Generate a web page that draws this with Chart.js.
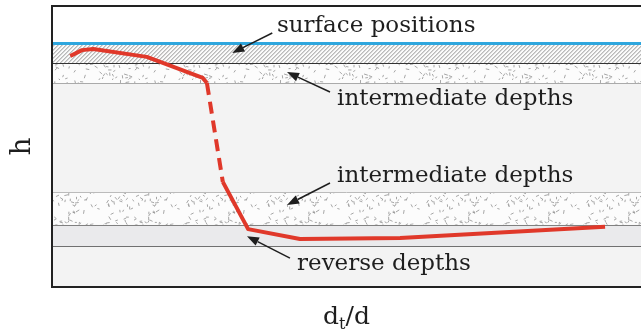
<!DOCTYPE html>
<html>
<head>
<meta charset="utf-8">
<script src="https://cdn.jsdelivr.net/npm/chart.js@4.4.0/dist/chart.umd.min.js"></script>
<style>
  body { margin: 0; background: #ffffff; }
  #wrap { width: 641px; height: 333px; }
</style>
</head>
<body>
<div id="wrap"><canvas id="myChart" width="641" height="333"></canvas></div>
<script>
    // red curve, h against d_t/d (both 0..1)
    var dtd = [0.031, 0.051, 0.070, 0.161, 0.256, 0.263, 0.290, 0.333, 0.421, 0.591, 0.939];
    var hVals = [0.822, 0.843, 0.847, 0.819, 0.744, 0.726, 0.374, 0.206, 0.171, 0.174, 0.214];
    var dashedSegment = 5;

    // labelled layers
    var layerNames = ['surface positions', 'intermediate depths', 'intermediate depths', 'reverse depths'];

    // layer bands (h units), drawn behind the curve
    var bands = [
      { from: 0.872, to: 1.0, fill: '#ffffff' },
      { from: 0.797, to: 0.867, fill: 'hatch' },
      { from: 0.726, to: 0.797, fill: 'stipple' },
      { from: 0.338, to: 0.726, fill: '#f3f3f3' },
      { from: 0.221, to: 0.338, fill: 'stipple' },
      { from: 0.146, to: 0.221, fill: '#eaeaec' },
      { from: 0.0, to: 0.146, fill: '#f3f3f3' }
    ];
    var rules = [
      { h: 0.867, color: '#2ea6de', width: 3 },
      { h: 0.797, color: '#333333', width: 1 },
      { h: 0.726, color: '#aaaaaa', width: 1.2 },
      { h: 0.338, color: '#bbbbbb', width: 1 },
      { h: 0.221, color: '#808080', width: 1.2 },
      { h: 0.146, color: '#707070', width: 1.2 }
    ];
    // label placement: text left/baseline and arrow start -> tip
    var notes = [
      { tx: 0.382, ty: 0.908, ax: 0.374, ay: 0.904, bx: 0.306, by: 0.833 },
      { tx: 0.484, ty: 0.648, ax: 0.472, ay: 0.694, bx: 0.399, by: 0.765 },
      { tx: 0.484, ty: 0.374, ax: 0.472, ay: 0.370, bx: 0.399, by: 0.292 },
      { tx: 0.416, ty: 0.062, ax: 0.404, ay: 0.103, bx: 0.331, by: 0.181 }
    ];

    var serif = '"DejaVu Serif", serif';

    function makeStipple() {
      var c = document.createElement('canvas');
      c.width = 80; c.height = 80;
      var g = c.getContext('2d');
      g.fillStyle = '#fcfcfc';
      g.fillRect(0, 0, 80, 80);
      var seed = 11;
      function rnd() { seed = (seed * 16807) % 2147483647; return seed / 2147483647; }
      g.strokeStyle = '#9c9c9c';
      g.lineWidth = 0.9;
      for (var i = 0; i < 165; i++) {
        var x = rnd() * 80, y = rnd() * 80, a = rnd() * Math.PI, l = 2 + rnd() * 2;
        g.beginPath();
        g.moveTo(x, y);
        g.lineTo(x + Math.cos(a) * l, y + Math.sin(a) * l);
        g.stroke();
      }
      return c;
    }

    var layersPlugin = {
      id: 'layers',
      beforeDatasetsDraw: function (chart) {
        var ctx = chart.ctx, a = chart.chartArea, y = chart.scales.y;
        ctx.save();
        ctx.beginPath();
        ctx.rect(a.left, a.top, a.right - a.left, a.bottom - a.top);
        ctx.clip();
        var pat = ctx.createPattern(makeStipple(), 'repeat');
        bands.forEach(function (b) {
          var top = y.getPixelForValue(b.to), bot = y.getPixelForValue(b.from);
          if (b.fill === 'hatch') {
            ctx.fillStyle = '#fafafa';
            ctx.fillRect(a.left, top, a.right - a.left, bot - top);
            ctx.save();
            ctx.beginPath();
            ctx.rect(a.left, top, a.right - a.left, bot - top);
            ctx.clip();
            ctx.strokeStyle = '#888888';
            ctx.lineWidth = 0.9;
            var hgt = bot - top;
            for (var x = a.left - hgt; x < a.right; x += 4) {
              ctx.beginPath();
              ctx.moveTo(x, bot);
              ctx.lineTo(x + hgt, top);
              ctx.stroke();
            }
            ctx.restore();
          } else if (b.fill === 'stipple') {
            ctx.fillStyle = pat;
            ctx.fillRect(a.left, top, a.right - a.left, bot - top);
          } else {
            ctx.fillStyle = b.fill;
            ctx.fillRect(a.left, top, a.right - a.left, bot - top);
          }
        });
        rules.forEach(function (r) {
          var py = Math.round(y.getPixelForValue(r.h)) + 0.5;
          ctx.strokeStyle = r.color;
          ctx.lineWidth = r.width;
          ctx.beginPath();
          ctx.moveTo(a.left, py);
          ctx.lineTo(a.right, py);
          ctx.stroke();
        });
        ctx.restore();
      },
      afterDatasetsDraw: function (chart) {
        var ctx = chart.ctx, a = chart.chartArea, xs = chart.scales.x, ys = chart.scales.y;
        ctx.save();
        // frame
        ctx.strokeStyle = '#222222';
        ctx.lineWidth = 2;
        ctx.beginPath();
        ctx.moveTo(a.right, a.top);
        ctx.lineTo(a.left, a.top);
        ctx.lineTo(a.left, a.bottom);
        ctx.lineTo(a.right, a.bottom);
        ctx.stroke();
        // notes and arrows
        ctx.font = '23px ' + serif;
        ctx.textBaseline = 'alphabetic';
        ctx.textAlign = 'left';
        notes.forEach(function (n, i) {
          ctx.fillStyle = '#1e1e1e';
          ctx.fillText(layerNames[i], xs.getPixelForValue(n.tx), ys.getPixelForValue(n.ty));
          var x0 = xs.getPixelForValue(n.ax), y0 = ys.getPixelForValue(n.ay);
          var x1 = xs.getPixelForValue(n.bx), y1 = ys.getPixelForValue(n.by);
          var ang = Math.atan2(y1 - y0, x1 - x0);
          var L = 12, W = 4.5;
          var bxp = x1 - Math.cos(ang) * L, byp = y1 - Math.sin(ang) * L;
          ctx.strokeStyle = '#1e1e1e';
          ctx.lineWidth = 1.5;
          ctx.beginPath();
          ctx.moveTo(x0, y0);
          ctx.lineTo(bxp, byp);
          ctx.stroke();
          ctx.beginPath();
          ctx.moveTo(x1, y1);
          ctx.lineTo(bxp + Math.sin(ang) * W, byp - Math.cos(ang) * W);
          ctx.lineTo(bxp - Math.sin(ang) * W, byp + Math.cos(ang) * W);
          ctx.closePath();
          ctx.fill();
        });
        // axis titles
        ctx.fillStyle = '#1e1e1e';
        ctx.save();
        ctx.translate(30, (a.top + a.bottom) / 2);
        ctx.rotate(-Math.PI / 2);
        ctx.textAlign = 'center';
        ctx.font = '28px ' + serif;
        ctx.fillText('h', 0, 0);
        ctx.restore();
        var cx = (a.left + a.right) / 2, by = 324;
        ctx.font = '25px ' + serif;
        var w1 = ctx.measureText('d').width, w3 = ctx.measureText('/d').width;
        ctx.font = '16px ' + serif;
        var w2 = ctx.measureText('t').width;
        var sx = cx - (w1 + w2 + w3) / 2;
        ctx.font = '25px ' + serif;
        ctx.fillText('d', sx, by);
        ctx.font = '16px ' + serif;
        ctx.fillText('t', sx + w1, by + 5);
        ctx.font = '25px ' + serif;
        ctx.fillText('/d', sx + w1 + w2, by);
        ctx.restore();
      }
    };

    var ctx = document.getElementById('myChart');
    var myChart = new Chart(ctx, {
      type: 'line',
      data: {
        datasets: [{
          label: 'h',
          data: dtd.map(function (v, i) { return { x: v, y: hVals[i] }; }),
          borderColor: '#e0382a',
          borderWidth: 4,
          pointRadius: 0,
          tension: 0,
          borderJoinStyle: 'round',
          segment: {
            borderDash: function (c) { return c.p0DataIndex === dashedSegment ? [12, 7] : undefined; }
          }
        }]
      },
      options: {
        responsive: false,
        animation: false,
        layout: { padding: { left: 52, top: 6, right: 0, bottom: 46 } },
        plugins: { legend: { display: false }, tooltip: { enabled: false } },
        scales: {
          x: { type: 'linear', min: 0, max: 1, display: false },
          y: { type: 'linear', min: 0, max: 1, display: false }
        }
      },
      plugins: [layersPlugin]
    });
</script>
</body>
</html>
